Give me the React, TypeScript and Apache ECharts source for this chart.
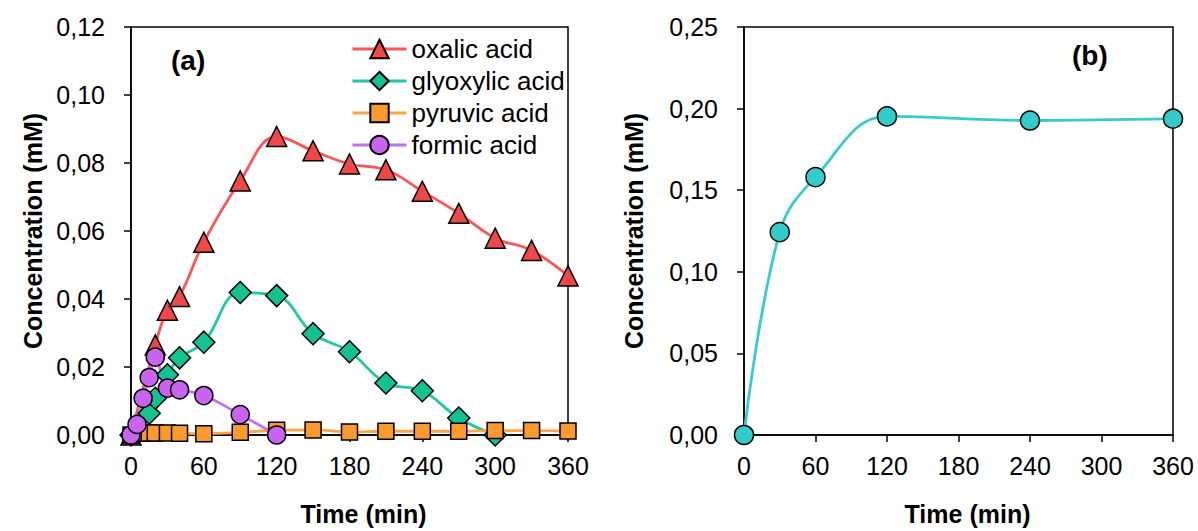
import React, { useEffect, useRef } from "react";
import * as echarts from "echarts";

// ---- Data (a) ----
const oxalicTime = [0, 20, 30, 40, 60, 90, 120, 150, 180, 210, 240, 270, 300, 330, 360];
const oxalicConc = [0, 0.0265, 0.0367, 0.0407, 0.0567, 0.0747, 0.0878, 0.0836, 0.0797, 0.078, 0.0717, 0.0652, 0.0579, 0.0543, 0.0468];

const glyoxylicTime = [0, 15, 20, 30, 40, 60, 90, 120, 150, 180, 210, 240, 270, 300];
const glyoxylicConc = [0, 0.0064, 0.0108, 0.0177, 0.0227, 0.0273, 0.0419, 0.041, 0.0298, 0.0245, 0.0153, 0.013, 0.005, 0];

const pyruvicTime = [0, 5, 10, 15, 20, 30, 40, 60, 90, 120, 150, 180, 210, 240, 270, 300, 330, 360];
const pyruvicConc = [0, 0.0005, 0.0006, 0.0006, 0.0006, 0.0006, 0.0005, 0.0004, 0.0008, 0.0014, 0.0015, 0.0009, 0.0011, 0.0011, 0.0011, 0.0013, 0.0013, 0.0012];

const formicTime = [0, 5, 10, 15, 20, 30, 40, 60, 90, 120];
const formicConc = [0, 0.0031, 0.0108, 0.0169, 0.0229, 0.0138, 0.0133, 0.0116, 0.006, 0];

// ---- Data (b) ----
const bTime = [0, 30, 60, 120, 240, 360];
const bConc = [0, 0.1243, 0.158, 0.1952, 0.1927, 0.1938];

// ---- Ticks ----
const xTicks = [0, 60, 120, 180, 240, 300, 360];
const yTicksA = [0, 0.02, 0.04, 0.06, 0.08, 0.1, 0.12];
const yTicksB = [0, 0.05, 0.1, 0.15, 0.2, 0.25];

const FONT = "'Liberation Sans', Arial, sans-serif";

const zip = (t: number[], v: number[]) => t.map((x, i) => [x, v[i]]);

function makeX(gridIndex: number, shift: number) {
  return {
    type: "value",
    gridIndex,
    min: xTicks[0],
    max: xTicks[xTicks.length - 1],
    interval: xTicks[1] - xTicks[0],
    name: "Time (min)",
    nameLocation: "middle",
    nameGap: 66,
    nameTextStyle: { fontFamily: FONT, fontSize: 25, fontWeight: "bold", color: "#000", padding: [0, 0, 0, shift] },
    axisLine: { show: true, lineStyle: { color: "#000", width: 1.5 } },
    axisTick: { show: true, inside: false, length: 7, lineStyle: { color: "#000", width: 1.5 } },
    axisLabel: { fontFamily: FONT, fontSize: 25, color: "#000", margin: 18 },
    splitLine: { show: false },
  };
}

function makeY(gridIndex: number, ticks: number[], gap: number) {
  return {
    type: "value",
    gridIndex,
    min: ticks[0],
    max: ticks[ticks.length - 1],
    interval: ticks[1] - ticks[0],
    name: "Concentration (mM)",
    nameLocation: "middle",
    nameGap: gap,
    nameTextStyle: { fontFamily: FONT, fontSize: 25, fontWeight: "bold", color: "#000" },
    axisLine: { show: true, lineStyle: { color: "#000", width: 1.5 } },
    axisTick: { show: true, inside: false, length: 7, lineStyle: { color: "#000", width: 1.5 } },
    axisLabel: {
      fontFamily: FONT,
      fontSize: 25,
      color: "#000",
      margin: 26,
      formatter: (v: number) => v.toFixed(2).replace(".", ","),
    },
    splitLine: { show: false },
  };
}

function lineSeries(name: string, data: number[][], color: string, fill: string, symbol: string, size: number, xi: number) {
  return {
    name,
    type: "line",
    xAxisIndex: xi,
    yAxisIndex: xi,
    data,
    smooth: 0.4,
    symbol,
    symbolSize: size,
    lineStyle: { color, width: 2.8 },
    itemStyle: { color: fill, borderColor: "#000", borderWidth: 1.5 },
    emphasis: { disabled: true },
  };
}

export default function App() {
  const ref = useRef<HTMLDivElement>(null);
  useEffect(() => {
    if (!ref.current) return;
    const chart = echarts.init(ref.current, undefined, { renderer: "svg" });
    chart.setOption({
      animation: false,
      backgroundColor: "#fff",
      grid: [
        { left: 131, top: 27, width: 437, height: 410, show: true, borderColor: "#000", borderWidth: 1.5, backgroundColor: "transparent" },
        { left: 744, top: 27, width: 429, height: 409, show: true, borderColor: "#000", borderWidth: 1.5, backgroundColor: "transparent" },
      ],
      xAxis: [makeX(0, 28), makeX(1, 18)],
      yAxis: [makeY(0, yTicksA, 86), makeY(1, yTicksB, 98)],
      legend: {
        data: ["oxalic acid", "glyoxylic acid", "pyruvic acid", "formic acid"],
        orient: "vertical",
        left: 346,
        top: 31,
        itemWidth: 54,
        itemHeight: 23,
        itemGap: 6,
        lineStyle: { width: 3 },
        textStyle: { fontFamily: FONT, fontSize: 26, color: "#000" },
      },
      graphic: [
        { type: "text", left: 171, top: 46, style: { text: "(a)", fontFamily: FONT, fontSize: 28, fontWeight: "bold", fill: "#000" } },
        { type: "text", left: 1072, top: 41, style: { text: "(b)", fontFamily: FONT, fontSize: 28, fontWeight: "bold", fill: "#000" } },
      ],
      series: [
        lineSeries("oxalic acid", zip(oxalicTime, oxalicConc), "#FF5555", "#F04848", "triangle", 20, 0),
        lineSeries("glyoxylic acid", zip(glyoxylicTime, glyoxylicConc), "#22C8A0", "#12C290", "diamond", 22, 0),
        lineSeries("pyruvic acid", zip(pyruvicTime, pyruvicConc), "#FFA545", "#F89A30", "rect", 16, 0),
        lineSeries("formic acid", zip(formicTime, formicConc), "#C070F0", "#C864F0", "circle", 18, 0),
        lineSeries("b", zip(bTime, bConc), "#36CCCC", "#33CCCC", "circle", 19, 1),
      ],
    });
    return () => chart.dispose();
  }, []);
  return <div ref={ref} style={{ position: "absolute", left: 0, top: 0, width: 1198, height: 531 }} />;
}
